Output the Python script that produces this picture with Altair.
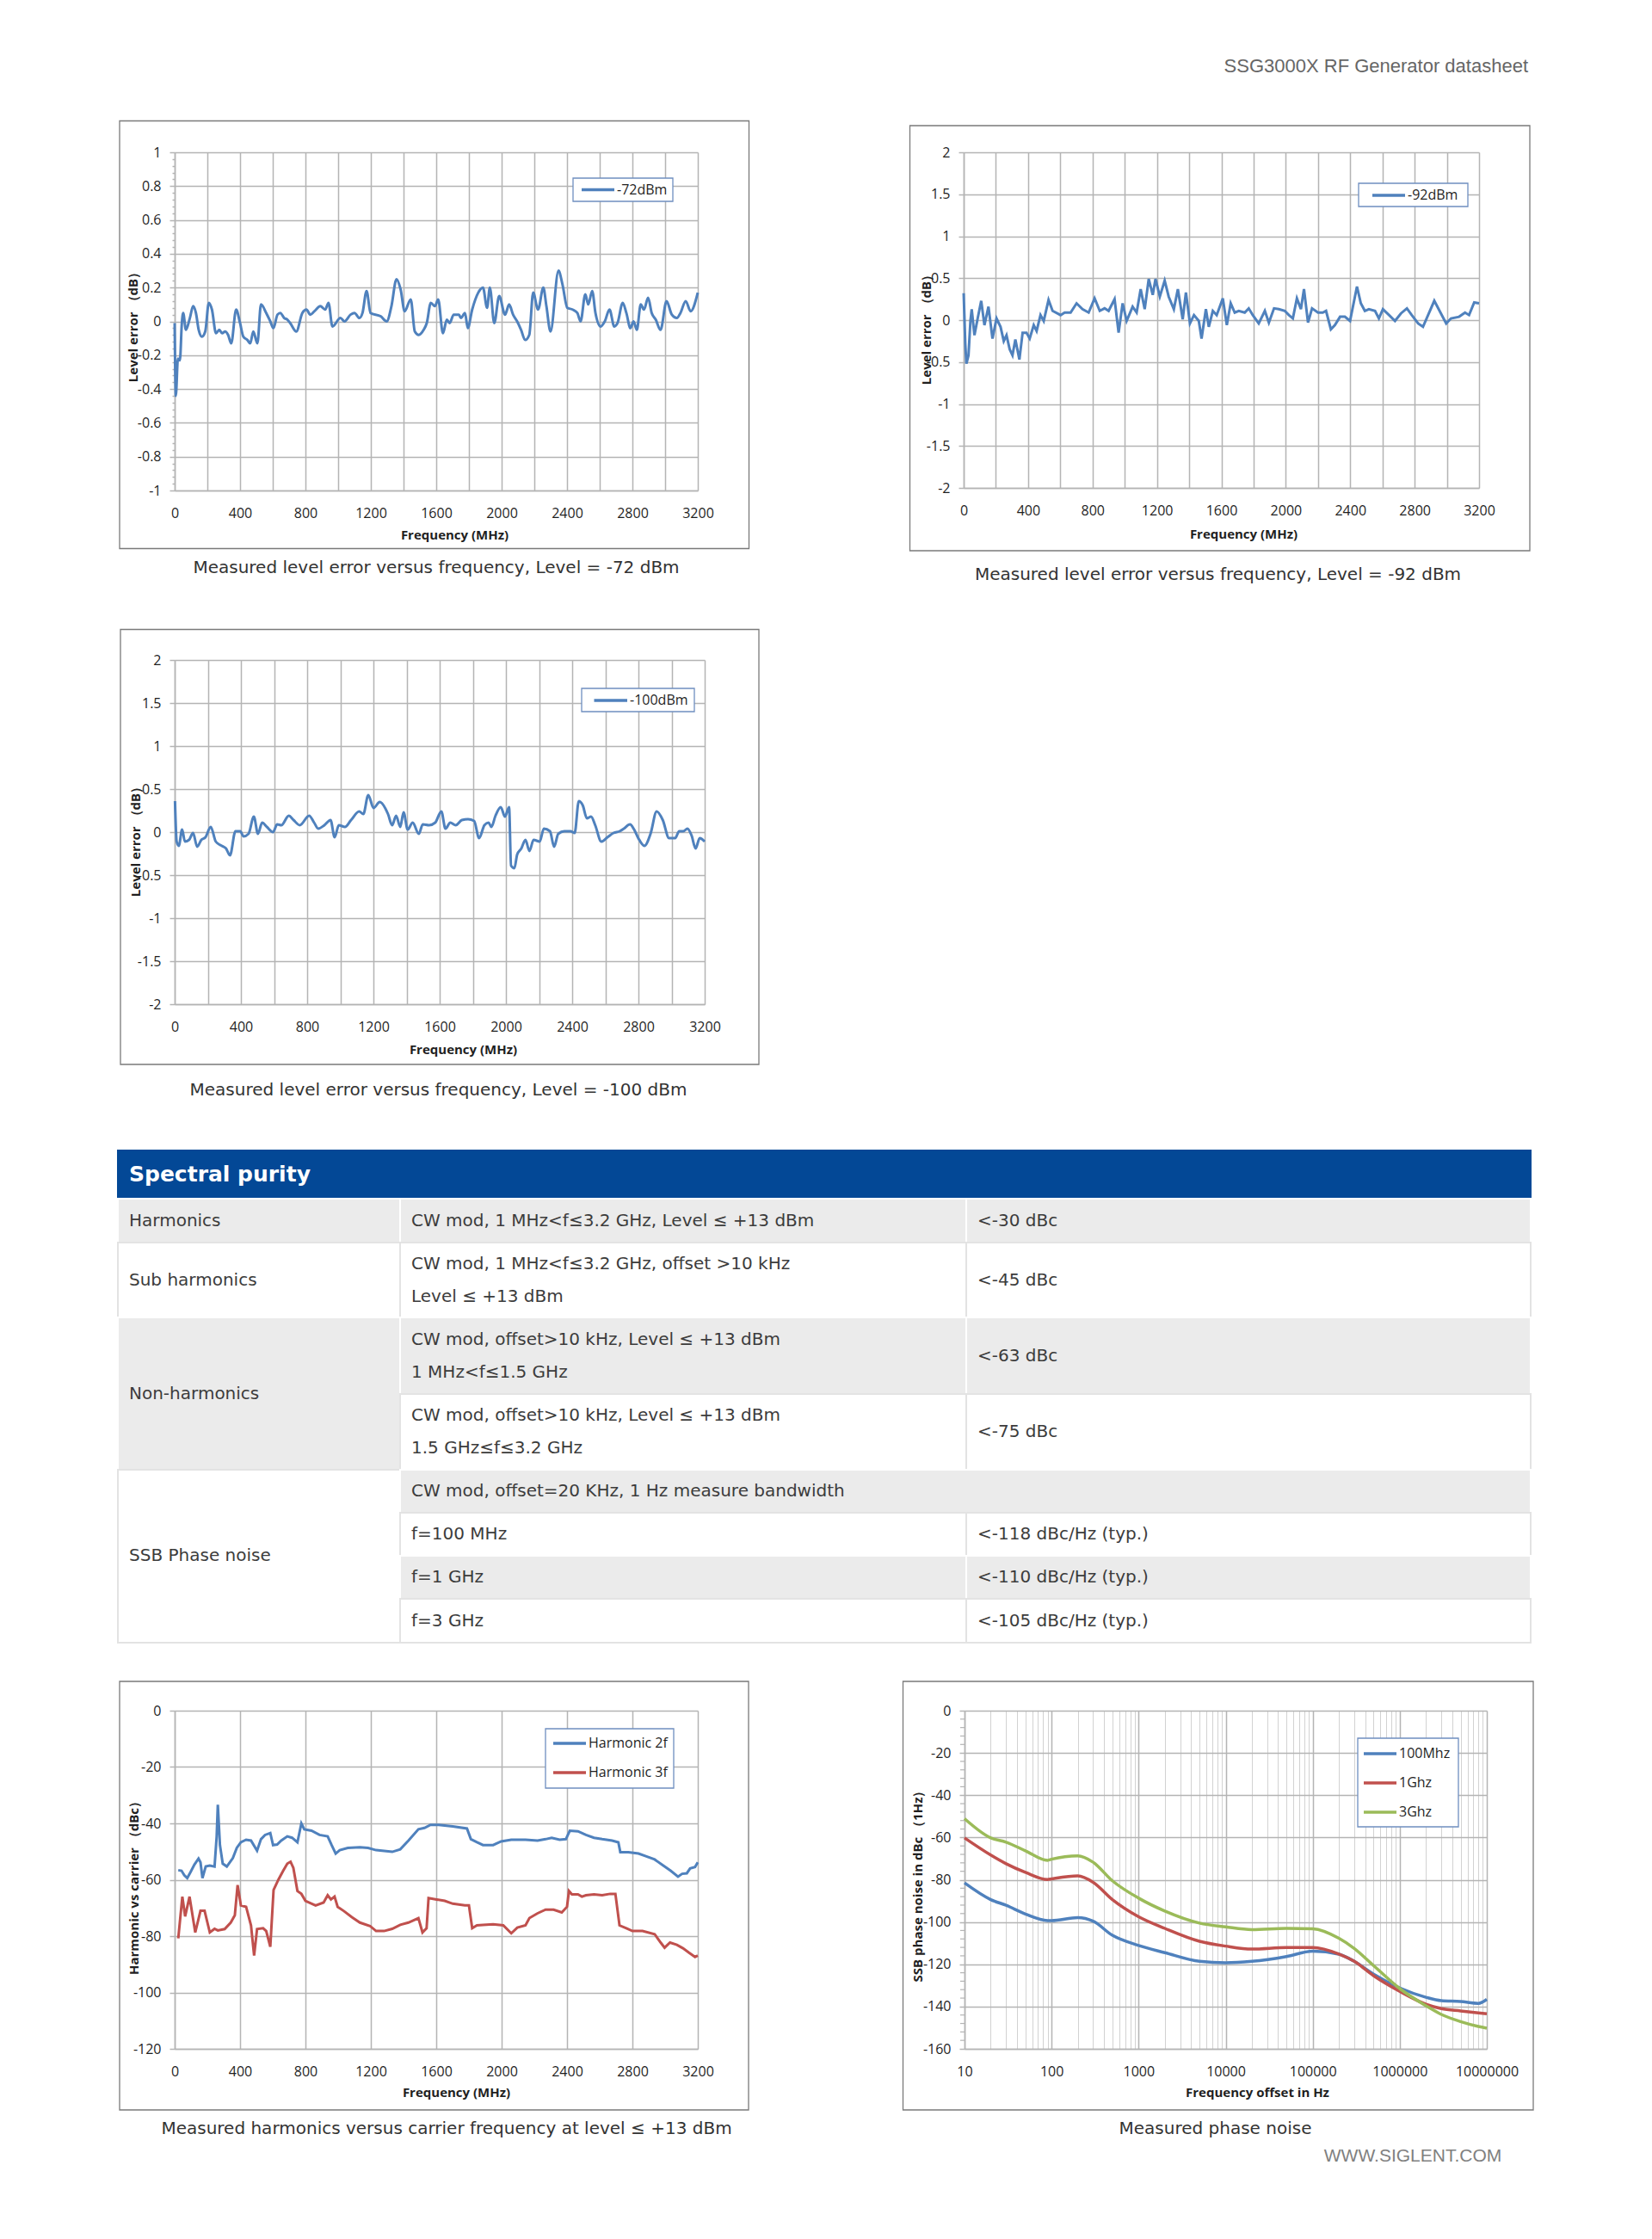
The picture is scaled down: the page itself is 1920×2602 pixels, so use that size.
import altair as alt
import pandas as pd

# ---------------- data ----------------
f72 = [0, 7, 20, 32, 44, 52, 69, 93, 113, 130, 147, 167, 187, 209, 228, 253, 273, 290, 309, 327,
       346, 376, 400, 420, 445, 462, 481, 506, 528, 560, 585, 604, 629, 646, 670, 690, 707, 744, 781, 806,
       830, 855, 891, 921, 941, 965, 1014, 1039, 1076, 1100, 1130, 1149, 1174, 1198, 1260, 1297, 1326, 1357, 1382, 1407,
       1444, 1469, 1493, 1523, 1542, 1567, 1592, 1612, 1641, 1665, 1682, 1707, 1739, 1751, 1776, 1793, 1820, 1857, 1886, 1911,
       1928, 1955, 1985, 2021, 2046, 2070, 2095, 2119, 2144, 2169, 2193, 2223, 2255, 2274, 2299, 2348, 2372, 2402, 2434, 2463,
       2483, 2512, 2530, 2554, 2574, 2606, 2631, 2660, 2689, 2709, 2741, 2763, 2788, 2807, 2827, 2851, 2871, 2896, 2918, 2943,
       2972, 3009, 3041, 3072, 3094, 3126, 3156, 3200]
lvl72 = [-0.01, -0.44, -0.22, -0.23, -0.01, 0.05, -0.05, 0.02, 0.09, 0.05, -0.05, -0.09, -0.06, 0.11, 0.07, -0.07, -0.05, -0.07, -0.06, -0.08,
         -0.13, 0.07, -0.01, -0.09, -0.11, -0.13, -0.06, -0.13, 0.10, 0.05, 0.0, -0.04, 0.04, 0.05, 0.02, 0.01, -0.01, -0.06, 0.05, 0.07,
         0.04, 0.06, 0.09, 0.07, 0.11, -0.03, 0.02, 0.0, 0.04, 0.05, 0.02, 0.05, 0.18, 0.05, 0.03, 0.0, 0.09, 0.25, 0.19, 0.06,
         0.13, -0.06, -0.08, -0.05, -0.01, 0.11, 0.09, 0.13, -0.07, 0.01, -0.01, 0.04, 0.04, 0.02, 0.05, -0.04, 0.07, 0.17, 0.20, 0.08,
         0.20, -0.01, 0.15, 0.04, 0.10, 0.04, 0.0, -0.05, -0.11, -0.08, 0.17, 0.07, 0.20, 0.09, -0.06, 0.30, 0.22, 0.08, 0.07, 0.05,
         0.0, 0.16, 0.10, 0.18, 0.05, -0.03, 0.0, 0.07, -0.03, -0.01, 0.11, 0.05, -0.04, 0.0, -0.05, 0.10, 0.07, 0.14, 0.05, 0.01,
         -0.05, 0.12, 0.04, 0.02, 0.05, 0.12, 0.06, 0.17]

f92 = [0, 10, 17, 30, 42, 50, 67, 87, 109, 129, 154, 179, 204, 229, 249, 266, 286, 303, 321, 346,
       366, 390, 410, 435, 453, 477, 497, 527, 552, 602, 627, 664, 701, 738, 776, 813, 845, 875, 900, 937,
       962, 987, 1012, 1049, 1074, 1099, 1124, 1149, 1174, 1191, 1218, 1248, 1273, 1305, 1330, 1360, 1380, 1405, 1430, 1460,
       1477, 1504, 1522, 1547, 1571, 1609, 1634, 1658, 1683, 1708, 1745, 1770, 1795, 1832, 1870, 1895, 1927, 1957, 1994, 2019,
       2044, 2069, 2094, 2113, 2138, 2163, 2200, 2230, 2250, 2280, 2305, 2337, 2367, 2399, 2442, 2466, 2491, 2516, 2554, 2578,
       2603, 2641, 2678, 2715, 2752, 2782, 2822, 2852, 2922, 2996, 3026, 3076, 3113, 3138, 3170, 3200]
lvl92 = [0.32, -0.28, -0.52, -0.42, -0.01, 0.13, -0.18, 0.02, 0.23, -0.06, 0.16, -0.22, 0.02, -0.08, -0.25, -0.18, -0.35, -0.42, -0.23, -0.47,
         -0.15, -0.15, -0.22, -0.06, -0.13, 0.06, -0.01, 0.24, 0.11, 0.06, 0.09, 0.09, 0.20, 0.13, 0.09, 0.26, 0.11, 0.14, 0.11, 0.25,
         -0.15, 0.20, -0.01, 0.16, 0.09, 0.37, 0.13, 0.49, 0.30, 0.49, 0.28, 0.47, 0.28, 0.13, 0.37, 0.01, 0.33, -0.04, 0.06, -0.01,
         -0.22, 0.13, -0.08, 0.11, 0.06, 0.26, -0.06, 0.20, 0.09, 0.11, 0.09, 0.14, 0.06, -0.04, 0.11, -0.03, 0.14, 0.13, 0.11, 0.06,
         0.02, 0.26, 0.13, 0.37, -0.03, 0.14, 0.09, 0.09, 0.11, -0.11, -0.06, 0.04, 0.04, -0.01, 0.40, 0.20, 0.11, 0.13, 0.11, 0.02,
         0.13, 0.06, -0.01, 0.08, 0.14, 0.06, -0.04, -0.08, 0.23, -0.04, 0.02, 0.04, 0.09, 0.06, 0.21, 0.20]

f100 = [2, 12, 25, 45, 62, 87, 111, 136, 161, 186, 218, 248, 285, 310, 334, 367, 396, 416, 446, 478,
        503, 528, 557, 594, 619, 644, 689, 718, 755, 812, 842, 867, 904, 941, 966, 991, 1028, 1065, 1114, 1139,
        1169, 1201, 1238, 1288, 1313, 1337, 1362, 1382, 1407, 1437, 1474, 1498, 1536, 1573, 1610, 1635, 1664, 1697, 1734, 1771,
        1808, 1838, 1870, 1895, 1912, 1937, 1969, 1994, 2019, 2031, 2051, 2068, 2093, 2118, 2142, 2167, 2204, 2229, 2266, 2291,
        2316, 2353, 2390, 2415, 2440, 2464, 2489, 2514, 2539, 2576, 2613, 2650, 2687, 2712, 2749, 2774, 2799, 2836, 2873, 2910,
        2947, 2985, 3022, 3046, 3071, 3096, 3121, 3145, 3170, 3200]
lvl100 = [0.36, -0.11, -0.16, 0.03, -0.11, -0.09, -0.01, -0.17, -0.09, -0.06, 0.06, -0.11, -0.16, -0.19, -0.27, 0.01, 0.01, -0.05, -0.02, 0.18,
          -0.02, 0.11, 0.06, 0.0, 0.09, 0.08, 0.19, 0.14, 0.08, 0.19, 0.11, 0.04, 0.08, 0.14, -0.06, 0.08, 0.06, 0.14, 0.24, 0.21,
          0.43, 0.28, 0.35, 0.21, 0.08, 0.19, 0.06, 0.23, 0.03, 0.11, -0.02, 0.09, 0.08, 0.11, 0.24, 0.04, 0.11, 0.08, 0.14, 0.15,
          0.13, -0.07, 0.08, 0.11, 0.06, 0.19, 0.29, 0.18, 0.29, -0.39, -0.42, -0.26, -0.19, -0.09, -0.22, -0.09, -0.11, 0.04, 0.01, -0.17,
          -0.02, 0.01, 0.01, -0.01, 0.36, 0.31, 0.16, 0.18, 0.08, -0.11, -0.06, -0.01, 0.01, 0.04, 0.09, 0.03, -0.07, -0.16, -0.02, 0.24,
          0.14, -0.07, -0.07, 0.01, 0.01, 0.04, -0.04, -0.19, -0.07, -0.11]

h2_freq = [22, 42, 59, 77, 96, 121, 146, 158, 170, 190, 215, 244, 257, 264, 277, 294, 319, 356, 380, 405,
           437, 467, 504, 528, 553, 585, 602, 627, 652, 689, 718, 751, 775, 793, 837, 886, 936, 960, 985, 1010,
           1059, 1133, 1183, 1232, 1331, 1380, 1430, 1491, 1528, 1565, 1615, 1701, 1788, 1812, 1849, 1886, 1948, 1997, 2059, 2146,
           2220, 2269, 2306, 2355, 2393, 2417, 2467, 2516, 2565, 2615, 2676, 2714, 2726, 2775, 2837, 2886, 2936, 2985, 3034, 3079,
           3104, 3133, 3153, 3183, 3200]
h2_dbc = [-56.6, -56.8, -58.4, -59.4, -57.4, -54.6, -52.5, -53.8, -59.4, -55.3, -55.0, -55.3, -44.6, -33.4, -47.7, -54.3, -55.3, -52.3, -48.7, -46.7,
          -45.8, -46.1, -49.7, -45.6, -44.1, -43.4, -47.7, -47.5, -46.1, -44.6, -45.1, -46.7, -40.0, -42.1, -42.6, -44.1, -44.6, -47.7, -50.7, -49.5,
          -48.7, -48.5, -48.7, -49.5, -50.1, -49.2, -46.1, -42.1, -41.6, -40.5, -40.5, -41.1, -41.8, -45.6, -46.7, -47.7, -47.7, -46.4, -45.8, -45.8,
          -46.1, -45.6, -45.1, -45.8, -45.6, -42.6, -42.8, -44.1, -45.1, -45.6, -46.1, -46.7, -50.2, -50.2, -50.7, -51.7, -52.8, -54.8, -56.8, -58.9,
          -57.9, -57.7, -56.0, -55.5, -53.8]

h3_freq = [22, 47, 64, 91, 126, 158, 183, 215, 244, 264, 306, 343, 368, 385, 405, 437, 467, 486, 504, 541,
           560, 585, 605, 635, 664, 689, 709, 726, 751, 775, 800, 862, 911, 936, 956, 978, 997, 1035, 1084, 1133,
           1195, 1232, 1281, 1331, 1380, 1430, 1491, 1516, 1541, 1553, 1602, 1652, 1701, 1775, 1800, 1820, 1849, 1886, 1948, 2010,
           2059, 2096, 2146, 2170, 2220, 2269, 2318, 2368, 2400, 2412, 2430, 2467, 2491, 2516, 2565, 2615, 2664, 2696, 2721, 2763,
           2800, 2862, 2936, 2973, 2997, 3030, 3072, 3109, 3146, 3183, 3200]
h3_dbc = [-80.8, -66.0, -73.0, -66.0, -78.7, -71.0, -71.0, -78.7, -77.4, -78.0, -77.5, -75.2, -72.6, -61.9, -69.1, -69.6, -76.2, -86.9, -77.5, -77.2,
          -78.2, -83.8, -63.6, -59.9, -56.8, -54.3, -53.6, -55.8, -64.0, -65.0, -67.5, -69.1, -68.1, -65.5, -67.0, -66.0, -69.6, -71.1, -73.3, -75.2,
          -76.4, -78.2, -78.2, -77.4, -76.0, -75.2, -73.6, -78.7, -77.2, -66.5, -67.0, -67.5, -68.5, -69.1, -69.1, -77.2, -76.2, -76.0, -75.8, -76.2,
          -79.0, -77.0, -76.2, -73.6, -71.9, -70.6, -70.6, -71.6, -69.6, -64.0, -65.2, -65.2, -66.0, -65.5, -65.2, -65.5, -65.0, -65.0, -76.2, -77.2,
          -78.2, -78.2, -79.3, -82.3, -84.1, -82.3, -83.1, -84.3, -85.9, -87.4, -86.9]

pn_offset = [10, 20, 30, 50, 90, 100, 200, 300, 500, 1000, 2000, 5000, 10000, 20000, 50000, 100000,
             200000, 300000, 500000, 1000000, 2000000, 3000000, 5000000, 8000000, 10000000]
pn_100m = [-81.5, -89.4, -92.1, -96.2, -99.3, -99.3, -97.9, -99.6, -106.3, -111.1, -114.5, -118.6, -119.3, -118.6, -116.3, -113.8,
           -115.2, -118.6, -124.7, -131.2, -135.6, -137.2, -137.6, -138.5, -136.6]
pn_1g = [-60.2, -68.3, -72.4, -76.5, -79.9, -79.6, -78.2, -81.2, -89.4, -97.5, -103.0, -109.1, -111.4, -112.8, -112.1, -112.1,
         -115.2, -118.6, -125.4, -132.8, -138.9, -141.0, -142.1, -143.0, -143.4]
pn_3g = [-51.1, -60.2, -62.2, -66.3, -70.8, -70.3, -68.7, -71.7, -80.5, -88.7, -94.8, -100.5, -102.3, -103.6, -103.0, -103.2,
         -107.7, -112.5, -120.6, -131.5, -139.6, -143.7, -147.1, -149.4, -150.2]

# table content
tbl_r0 = [0, 1, 1, 1, 2, 2, 2, 3, 3, 3, 4, 4, 5, 5, 6, 6, 7, 7, 8, 8]
tbl_r1 = [1, 2, 2, 2, 3, 3, 3, 5, 4, 4, 5, 5, 9, 6, 7, 7, 8, 8, 9, 9]
tbl_c0 = [0, 0, 1, 2, 0, 1, 2, 0, 1, 2, 1, 2, 0, 1, 1, 2, 1, 2, 1, 2]
tbl_c1 = [3, 1, 2, 3, 1, 2, 3, 1, 2, 3, 2, 3, 1, 3, 2, 3, 2, 3, 2, 3]
tbl_shade = ["head", "gray", "gray", "gray", "white", "white", "white", "gray", "gray", "gray", "white", "white",
             "white", "gray", "white", "white", "gray", "gray", "white", "white"]
tbl_txt = ["Spectral purity",
           "Harmonics", "CW mod, 1 MHz<f\u22643.2 GHz, Level \u2264 +13 dBm", "<-30 dBc",
           "Sub harmonics", "CW mod, 1 MHz<f\u22643.2 GHz, offset >10 kHz\nLevel \u2264 +13 dBm", "<-45 dBc",
           "Non-harmonics", "CW mod, offset>10 kHz, Level \u2264 +13 dBm\n1 MHz<f\u22641.5 GHz", "<-63 dBc",
           "CW mod, offset>10 kHz, Level \u2264 +13 dBm\n1.5 GHz\u2264f\u22643.2 GHz", "<-75 dBc",
           "SSB Phase noise", "CW mod, offset=20 KHz, 1 Hz measure bandwidth",
           "f=100 MHz", "<-118 dBc/Hz (typ.)", "f=1 GHz", "<-110 dBc/Hz (typ.)", "f=3 GHz", "<-105 dBc/Hz (typ.)"]

# ---------------- styles ----------------
BLUE, RED, GREEN = "#4F81BD", "#C0504D", "#9BBB59"
GRID = "#B4B4B4"
FRAME = "#7A7A7A"
LEG_BORDER = "#6F8FC0"
AXF = "Open Sans"
TXT = "#1F1F1F"
ONE = pd.DataFrame({"k": [0]})


def y_axis(values, title, tx, ty, label_expr="toString(datum.value)", grid_opacity=1, tick_size=6):
    return alt.Axis(values=values, labelExpr=label_expr, title=title,
                    ticks=True, tickSize=tick_size, tickColor=GRID, tickWidth=1.5, labelOverlap=False,
                    labelPadding=10, labelFont=AXF, labelFontSize=16, labelColor=TXT,
                    domainColor=GRID, domainWidth=1.5, gridColor=GRID, gridWidth=1.5, gridOpacity=grid_opacity,
                    titleFont=AXF, titleFontSize=15, titleFontWeight="bold", titleColor=TXT,
                    titleAngle=270, titleX=tx, titleY=ty, titleAlign="center", titleBaseline="middle")


def x_axis(values, label_expr, title, tx, ty, grid_color=GRID, grid_width=1.5):
    return alt.Axis(values=values, labelExpr=label_expr, title=title,
                    ticks=False, tickSize=0, labelPadding=18, labelFlush=False, labelOverlap=False,
                    labelFont=AXF, labelFontSize=16, labelColor=TXT,
                    domainColor=GRID, domainWidth=1.5, gridColor=grid_color, gridWidth=grid_width,
                    titleFont=AXF, titleFontSize=15, titleFontWeight="bold", titleColor=TXT,
                    titleAngle=0, titleX=tx, titleY=ty, titleAlign="center", titleBaseline="middle")


def d_rect(x0, y0, x1, y1, **mk):
    return alt.Chart(ONE).mark_rect(**mk).encode(x=alt.value(x0), x2=alt.value(x1), y=alt.value(y0), y2=alt.value(y1))


def d_rule(x0, x1, y, **mk):
    return alt.Chart(ONE).mark_rule(**mk).encode(x=alt.value(x0), x2=alt.value(x1), y=alt.value(y))


def d_text(x, y, s, **mk):
    return alt.Chart(ONE).mark_text(**mk).encode(x=alt.value(x), y=alt.value(y), text=alt.value(s))


def panel(data_layers, plot, frame, cell, caption, legend_box, entries, sym_x, lab_x, extra=()):
    """plot = (page x, page y, width, height) of the plot origin; other boxes in page pixels."""
    px, py, w, h = plot
    L = [d_rect(cell[0] - px, cell[1] - py, cell[2] - px, cell[3] - py, opacity=0),
         d_rect(frame[0] - px, frame[1] - py, frame[2] - px, frame[3] - py,
                fillOpacity=0, stroke=FRAME, strokeWidth=1.3)]
    L += data_layers
    bx0, by0, bx1, by1 = legend_box
    L.append(d_rect(bx0 - px, by0 - py, bx1 - px, by1 - py, fill="white", stroke=LEG_BORDER, strokeWidth=1.3))
    for name, color, yy in entries:
        L.append(d_rule(sym_x[0] - px, sym_x[1] - px, yy - py, color=color, strokeWidth=3.5))
        L.append(d_text(lab_x - px, yy - py, name, align="left", baseline="middle",
                        font=AXF, fontSize=16, color=TXT))
    ct, cx, cy = caption
    L.append(d_text(cx - px, cy - py, ct, align="center", baseline="middle",
                    font="DejaVu Sans", fontSize=20, color="#333333"))
    for s, x, y, align, font, size, color in extra:
        L.append(d_text(x - px, y - py, s, align=align, baseline="middle", font=font, fontSize=size, color=color))
    return alt.layer(*L).properties(width=w, height=h)


FREQ_VALS = list(range(0, 3201, 200))
FREQ_EXPR = "datum.value % 400 == 0 ? toString(datum.value) : ''"
FSCALE = alt.Scale(domain=[0, 3200], nice=False, zero=False)
LV2 = [-2, -1.5, -1, -0.5, 0, 0.5, 1, 1.5, 2]


def level_line(freq, lvl, ydom, yaxis, tx, ty, interp):
    df = pd.DataFrame({"freq": freq, "level": lvl})
    return alt.Chart(df).mark_line(color=BLUE, strokeWidth=3, interpolate=interp).encode(
        x=alt.X("freq:Q", scale=FSCALE, axis=x_axis(FREQ_VALS, FREQ_EXPR, "Frequency (MHz)", tx, ty)),
        y=alt.Y("level:Q", scale=alt.Scale(domain=ydom, nice=False, zero=False), axis=yaxis))


# row boundaries (page px) used for the invisible layout cells
R1_TOP, R1_BOT = 56, 689
R2_TOP, R2_BOT = 691, 1299
R3_TOP, R3_BOT = 1301, 1924
R4_TOP, R4_BOT = 1926, 2540

# ---- chart 1 : -72 dBm (major ticks every 0.2, minor ticks every 0.04 on one axis) ----
LV1_ALL = [round(-1 + 0.04 * i, 2) for i in range(51)]
IS_MAJ = "abs(datum.value * 5 - round(datum.value * 5)) < 0.001"
c1_axis = y_axis(LV1_ALL, "Level error \uff08dB\uff09", -49, 199,
                 label_expr=IS_MAJ + " ? toString(datum.value) : ''",
                 grid_opacity={"condition": {"test": IS_MAJ, "value": 1}, "value": 0},
                 tick_size={"condition": {"test": IS_MAJ, "value": 6}, "value": 3})
c1_line = level_line(f72, lvl72, [-1, 1], c1_axis, 325, 51, "monotone")
c1 = panel([c1_line], (202, 176, 608, 393), (138, 139.5, 869.5, 636.5), (136, R1_TOP, 900, R1_BOT),
           ("Measured level error versus frequency, Level = -72 dBm", 506, 659),
           (665, 206, 781, 233), [("-72dBm", BLUE, 219.5)], (675, 713), 716)

# ---- chart 2 : -92 dBm ----
c2_line = level_line(f92, lvl92, [-2, 2], y_axis(LV2, "Level error \uff08dB\uff09", -44, 202), 325, 53, "linear")
c2 = panel([c2_line], (1119, 176, 599, 390), (1056.5, 145, 1777, 639), (1026, R1_TOP, 1790, R1_BOT),
           ("Measured level error versus frequency, Level = -92 dBm", 1414.5, 667),
           (1578, 212, 1705, 239), [("-92dBm", BLUE, 226)], (1594, 1632), 1635,
           extra=[("SSG3000X RF Generator datasheet", 1775, 76, "right", "Liberation Sans", 22, "#666666")])

# ---- chart 3 : -100 dBm ----
c3_line = level_line(f100, lvl100, [-2, 2], y_axis(LV2, "Level error \uff08dB\uff09", -46, 207), 335, 52, "monotone")
c3 = panel([c3_line], (202, 766, 616, 400), (139, 730.5, 881, 1236), (136, R2_TOP, 900, R2_BOT),
           ("Measured level error versus frequency, Level = -100 dBm", 508.5, 1266),
           (675, 799, 806, 826), [("-100dBm", BLUE, 813)], (689.5, 728), 731)

# ---- chart 4 : harmonics ----
H_Y = alt.Scale(domain=[-120, 0], nice=False, zero=False)
c4_l2 = alt.Chart(pd.DataFrame({"freq": h2_freq, "dbc": h2_dbc})).mark_line(color=BLUE, strokeWidth=3).encode(
    x=alt.X("freq:Q", scale=FSCALE, axis=x_axis(FREQ_VALS, FREQ_EXPR, "Frequency (MHz)", 327, 50)),
    y=alt.Y("dbc:Q", scale=H_Y,
            axis=y_axis([-120, -100, -80, -60, -40, -20, 0], "Harmonic vs carrier \uff08dBc\uff09", -48, 202)))
c4_l3 = alt.Chart(pd.DataFrame({"freq": h3_freq, "dbc": h3_dbc})).mark_line(color=RED, strokeWidth=3).encode(
    x=alt.X("freq:Q", scale=FSCALE), y=alt.Y("dbc:Q", scale=H_Y))
c4 = panel([c4_l2, c4_l3], (202, 1987, 608, 393), (138, 1953, 869, 2451), (136, R4_TOP, 900, R4_BOT),
           ("Measured harmonics versus carrier frequency at level \u2264 +13 dBm", 518, 2473),
           (633, 2008, 782, 2077), [("Harmonic 2f", BLUE, 2025), ("Harmonic 3f", RED, 2059)], (642, 680), 683)

# ---- chart 5 : phase noise ----
DECADES = "[10,100,1000,10000,100000,1000000,10000000]"
LOG_VALS = [m * 10 ** e for e in range(1, 7) for m in range(1, 10)] + [10 ** 7]
IS_DEC = "indexof(" + DECADES + ", datum.value) >= 0"
log_axis = x_axis(LOG_VALS, IS_DEC + " ? toString(datum.value) : ''", "Frequency offset in Hz", 340, 50,
                  grid_color={"condition": {"test": IS_DEC, "value": GRID}, "value": "#D2D2D2"},
                  grid_width={"condition": {"test": IS_DEC, "value": 1.5}, "value": 1})
PN_X = alt.Scale(type="log", domain=[10, 10000000], nice=False)
PN_Y = alt.Scale(domain=[-160, 0], nice=False, zero=False)
c5_minor = [v for v in range(-160, 1, 4) if v % 20]
c5_ticks = alt.Chart(pd.DataFrame({"noise": c5_minor})).mark_rule(color=GRID, strokeWidth=1.2).encode(
    y=alt.Y("noise:Q", scale=PN_Y), x=alt.value(-5), x2=alt.value(0))
c5_layers = [c5_ticks]
for i, (vals, col) in enumerate([(pn_100m, BLUE), (pn_1g, RED), (pn_3g, GREEN)]):
    df = pd.DataFrame({"off": pn_offset, "noise": vals})
    if i == 0:
        enc = dict(x=alt.X("off:Q", scale=PN_X, axis=log_axis),
                   y=alt.Y("noise:Q", scale=PN_Y,
                           axis=y_axis([-160, -140, -120, -100, -80, -60, -40, -20, 0],
                                       "SSB phase noise in dBc \uff081Hz\uff09", -55, 200)))
    else:
        enc = dict(x=alt.X("off:Q", scale=PN_X), y=alt.Y("noise:Q", scale=PN_Y))
    c5_layers.append(alt.Chart(df).mark_line(color=col, strokeWidth=3.5, interpolate="monotone").encode(**enc))
c5 = panel(c5_layers, (1120, 1987, 607, 393), (1048.5, 1953, 1781, 2451), (1026, R4_TOP, 1790, R4_BOT),
           ("Measured phase noise", 1411.5, 2473),
           (1577, 2019, 1694, 2122), [("100Mhz", BLUE, 2037), ("1Ghz", RED, 2071), ("3Ghz", GREEN, 2105)],
           (1584, 1622), 1625,
           extra=[("WWW.SIGLENT.COM", 1641, 2505, "center", "Liberation Sans", 21, "#808080")])

# ---- table (origin aligned with the charts' plot origin at x=202, y=1336) ----
tbl = pd.DataFrame({"r0": tbl_r0, "r1": tbl_r1, "c0": tbl_c0, "c1": tbl_c1, "shade": tbl_shade, "txt": tbl_txt})
tbl["rm"] = (tbl["r0"] + tbl["r1"]) / 2
tbl["nl"] = tbl["txt"].str.count("\n") + 1
TX0, TY0 = 202, 1336
XS = alt.Scale(domain=[0, 1, 2, 3], range=[136 - TX0, 464 - TX0, 1122 - TX0, 1778 - TX0], nice=False, zero=False)
YS = alt.Scale(domain=[0, 1, 2, 3, 4, 5, 6, 7, 8, 9], range=[0, 56, 107, 194, 283, 371, 421, 471, 521, 572],
               nice=False, zero=False)
SH = ["head", "gray", "white"]
t_cells = alt.Chart(tbl).mark_rect(strokeWidth=2).encode(
    x=alt.X("c0:Q", scale=XS, axis=None), x2="c1:Q",
    y=alt.Y("r0:Q", scale=YS, axis=None), y2="r1:Q",
    fill=alt.Fill("shade:N", scale=alt.Scale(domain=SH, range=["#034896", "#EBEBEB", "#FFFFFF"]), legend=None),
    stroke=alt.Stroke("shade:N", scale=alt.Scale(domain=SH, range=["#034896", "#FFFFFF", "#E3E3E3"]), legend=None))
TXT_ENC = dict(x=alt.X("c0:Q", scale=XS, axis=None), y=alt.Y("rm:Q", scale=YS, axis=None), text="txt:N")
t_body1 = alt.Chart(tbl).transform_filter("datum.shade != 'head' && datum.nl == 1").mark_text(
    align="left", baseline="middle", dx=13, font="DejaVu Sans", fontSize=20, color="#3C3C3C").encode(**TXT_ENC)
t_body2 = alt.Chart(tbl).transform_filter("datum.nl == 2").mark_text(
    align="left", baseline="middle", dx=13, dy=-19, font="DejaVu Sans", fontSize=20, color="#3C3C3C",
    lineBreak="\n", lineHeight=38).encode(**TXT_ENC)
t_head = alt.Chart(tbl).transform_filter("datum.shade == 'head'").mark_text(
    align="left", baseline="middle", dx=13, font="DejaVu Sans", fontSize=25, fontWeight="bold", color="white").encode(**TXT_ENC)
table = alt.layer(d_rect(136 - TX0, R3_TOP - TY0, 1790 - TX0, R3_BOT - TY0, opacity=0),
                  t_cells, t_body1, t_body2, t_head).properties(width=1576, height=572)

row1 = alt.hconcat(c1, c2, spacing=124)
row4 = alt.hconcat(c4, c5, spacing=124)
chart = alt.vconcat(row1, c3, table, row4, spacing=0).properties(
    padding={"left": 127, "top": 48, "right": 100, "bottom": 20}, background="white"
).configure_view(stroke="transparent")

chart.save("out.html", embed_options={"renderer": "svg", "actions": False})
